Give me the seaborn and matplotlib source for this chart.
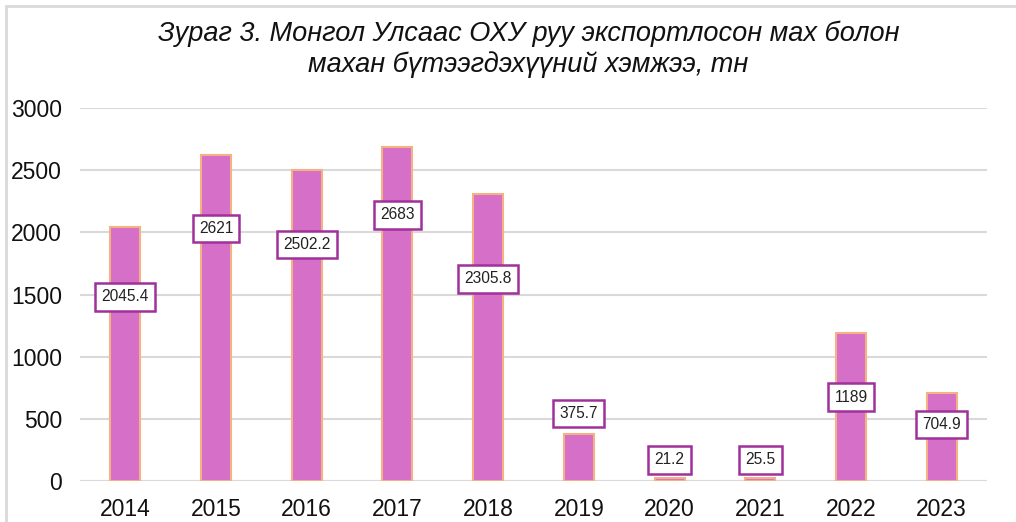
import numpy as np
import pandas as pd
import seaborn as sns
import matplotlib.pyplot as plt
from matplotlib.patches import Rectangle

sns.set_theme(style="white")
plt.rcParams['font.family'] = ['Liberation Sans', 'DejaVu Sans']

# %% Data
years = ["2014", "2015", "2016", "2017", "2018", "2019", "2020", "2021", "2022", "2023"]
volume = [2045.4, 2621, 2502.2, 2683, 2305.8, 375.7, 21.2, 25.5, 1189, 704.9]
label_text = ["2045.4", "2621", "2502.2", "2683", "2305.8", "375.7", "21.2", "25.5", "1189", "704.9"]
# where each data label box sits (in data units, as dragged in the original)
label_y = [1480, 2030, 1900, 2140, 1625, 545, 170, 170, 675, 455]

df = pd.DataFrame({"year": years, "volume": volume})

# %% Figure
fig = plt.figure(figsize=(10.16, 5.22), dpi=100)
ax = fig.add_axes([80 / 1016, 41 / 522, 907 / 1016, 373 / 522])

sns.barplot(data=df, x="year", y="volume", color="#D66FC8", width=0.33,
            edgecolor="#F4B183", linewidth=1.5, saturation=1, ax=ax, zorder=3)

ax.set_ylim(0, 3000)
ax.set_xlim(-0.5, 9.5)
ax.set_yticks(np.arange(0, 3001, 500))
ax.yaxis.grid(True, color="#D9D9D9", linewidth=1.5, zorder=0)
ax.set_axisbelow(True)
for s in ax.spines.values():
    s.set_visible(False)
ax.axhline(0, color="#D9D9D9", linewidth=1.5, zorder=2)
ax.tick_params(axis="both", length=0, labelsize=16.5, colors="#111111")
ax.tick_params(axis="y", pad=13)
ax.tick_params(axis="x", pad=12)
ax.set_xlabel("")
ax.set_ylabel("")

for i, (t, yv) in enumerate(zip(label_text, label_y)):
    ax.text(i, yv, t, ha="center", va="center", fontsize=11.2, color="#222222", zorder=5,
            bbox=dict(boxstyle="square,pad=0.4", facecolor="white", edgecolor="#A0309A", linewidth=1.8))

fig.text(0.52, 0.906, "Зураг 3. Монгол Улсаас ОХУ руу экспортлосон мах болон\nмахан бүтээгдэхүүний хэмжээ, тн",
         ha="center", va="center", fontsize=19.5, style="italic", linespacing=1.2,
         color="#111111")

# outer chart frame
fig.patches.append(Rectangle((6 / 1016, -0.1), 1.2, (516 / 522) + 0.1, transform=fig.transFigure,
                             fill=False, edgecolor="#D9D9D9", linewidth=2))

fig.savefig("out.png", dpi=100, facecolor="white")
